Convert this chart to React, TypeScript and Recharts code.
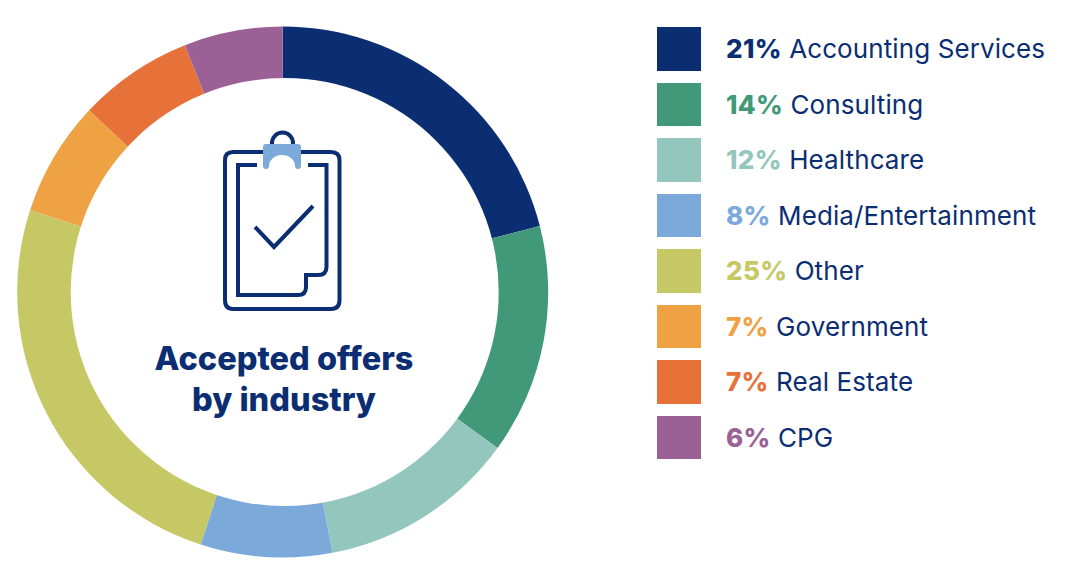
import React from 'react';
import { PieChart, Pie, Cell, Legend } from 'recharts';

const industries = ['Accounting Services', 'Consulting', 'Healthcare', 'Media/Entertainment', 'Other', 'Government', 'Real Estate', 'CPG'];
const shares = [21, 14, 12, 8, 25, 7, 7, 6];
const colors = ['#0B2E73', '#42997A', '#93C6BD', '#7BA9DA', '#C6C765', '#EFA243', '#E6723A', '#9B6096'];
const titleLines = ['Accepted offers', 'by industry'];

const NAVY = '#0B2E73';
const FONT = 'Inter, sans-serif';

const data = industries.map((name, i) => ({ name, value: shares[i] }));

const LegendList = () => (
    <div style={{ fontFamily: FONT }}>
        {data.map((d, i) => (
            <div key={d.name} style={{ display: 'flex', alignItems: 'center', height: 43.5, marginBottom: 12 }}>
                <div style={{ width: 44, height: 43.5, background: colors[i], marginRight: 25, flex: 'none' }} />
                <span style={{ fontSize: 26, color: NAVY, whiteSpace: 'nowrap', letterSpacing: 0.1 }}>
                    <span style={{ fontWeight: 800, color: colors[i], letterSpacing: 0.3 }}>{d.value}%</span> {d.name}
                </span>
            </div>
        ))}
    </div>
);

const ClipboardIcon = () => (
    <g fill="none" stroke={NAVY} strokeWidth={4}>
        <path d="M264 152 H233 Q225 152 225 160 V300 Q225 309 233 309 H331 Q339.5 309 339.5 300 V160 Q339.5 152 331 152 H301" />
        <path d="M257 165 H238 V295 H298 Q306 295 306 287 V275 H318 Q326.5 275 326.5 267 V165 H308" />
        <path d="M255 227 L274 247 L313 206" />
        <path d="M272 145 V143 A10.5 10.5 0 0 1 293 143 V145" />
        <path
            d="M266 144 H298 Q301 144 301 147 V166 A3 3 0 0 1 295 166 A13 11 0 0 0 269 166 A3 3 0 0 1 263 166 V147 Q263 144 266 144 Z"
            fill="#7BA9DA"
            stroke="none"
        />
    </g>
);

export default function App() {
    return (
        <div style={{ position: 'absolute', left: 0, top: 0, width: 1080, height: 566, background: '#fff' }}>
            <PieChart width={1080} height={566} margin={{ top: 0, right: 0, bottom: 0, left: 0 }}>
                <Pie
                    data={data}
                    dataKey="value"
                    nameKey="name"
                    cx={282.7}
                    cy={292}
                    innerRadius={200}
                    outerRadius={265.5}
                    startAngle={90}
                    endAngle={-270}
                    stroke="none"
                    isAnimationActive={false}
                >
                    {data.map((d, i) => (
                        <Cell key={d.name} fill={colors[i]} />
                    ))}
                </Pie>
                <Legend
                    layout="vertical"
                    align="right"
                    verticalAlign="top"
                    content={<LegendList />}
                    wrapperStyle={{ position: 'absolute', left: 657, top: 27, right: 'auto', bottom: 'auto', width: 420 }}
                />
            </PieChart>
            {/* overlay: the hole sits a little right of the ring's centre in the original */}
            <svg width={560} height={566} style={{ position: 'absolute', left: 0, top: 0, pointerEvents: 'none' }}>
                <circle cx={284.7} cy={292} r={214} fill="#fff" />
                <ClipboardIcon />
                <text x={284} textAnchor="middle" fontFamily={FONT} fontWeight={800} fontSize={32.5} fill={NAVY}>
                    <tspan x={284} y={370}>{titleLines[0]}</tspan>
                    <tspan x={284} y={411}>{titleLines[1]}</tspan>
                </text>
            </svg>
        </div>
    );
}
